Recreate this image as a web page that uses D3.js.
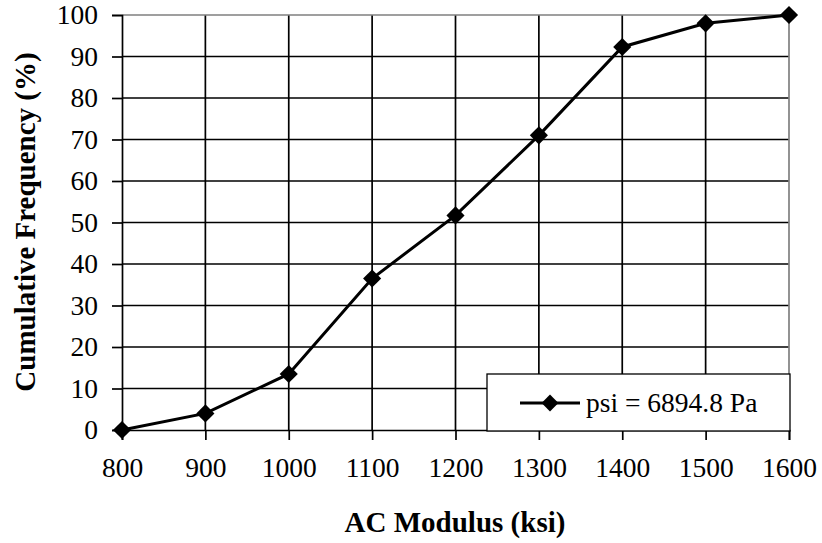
<!DOCTYPE html>
<html>
<head>
<meta charset="utf-8">
<script src="https://cdn.jsdelivr.net/npm/d3@7"></script>
<style>
  body { margin: 0; background: #fff; }
  text { font-family: "Liberation Serif", "Times New Roman", serif; fill: #000; }
</style>
</head>
<body>
<div id="chart"></div>
<script>
var modulus = [800, 900, 1000, 1100, 1200, 1300, 1400, 1500, 1600];
var cumFreq = [0, 4, 13.5, 36.5, 51.7, 71, 92.3, 98, 100];
var xTicks = [800, 900, 1000, 1100, 1200, 1300, 1400, 1500, 1600];
var yTicks = [0, 10, 20, 30, 40, 50, 60, 70, 80, 90, 100];
var seriesName = "psi = 6894.8 Pa";

var w = 822, h = 543;
var padL = 122, padR = 789, padT = 15, padB = 430;
var gridW = 1.7;

var x = d3.scaleLinear().domain([800, 1600]).range([padL, padR]);
var y = d3.scaleLinear().domain([0, 100]).range([padB, padT]);

var svg = d3.select("#chart").append("svg")
    .attr("width", w)
    .attr("height", h);

// gridlines
svg.append("g")
    .selectAll("line")
    .data(yTicks.slice(1, -1))
    .enter().append("line")
    .attr("x1", padL).attr("x2", padR)
    .attr("y1", d => y(d)).attr("y2", d => y(d))
    .attr("stroke", "#000").attr("stroke-width", gridW);
svg.append("g")
    .selectAll("line")
    .data(xTicks.slice(1, -1))
    .enter().append("line")
    .attr("y1", padT).attr("y2", padB)
    .attr("x1", d => x(d)).attr("x2", d => x(d))
    .attr("stroke", "#000").attr("stroke-width", gridW);

// plot border, top and right are grey
svg.append("path")
    .attr("d", "M" + padL + "," + y(100) + "H" + x(1600) + "V" + padB)
    .attr("fill", "none")
    .attr("stroke", "#808080")
    .attr("stroke-width", gridW);

// axes
var yaxis = d3.axisLeft(y).tickValues(yTicks).tickSize(10).tickPadding(14)
    .tickFormat(d3.format("d"));
svg.append("g")
    .attr("transform", "translate(" + padL + ",0)")
    .call(yaxis)
    .call(g => g.select(".domain").attr("stroke-width", gridW))
    .call(g => g.selectAll(".tick line").attr("stroke-width", gridW))
    .call(g => g.selectAll("text").attr("font-size", "27.5px").attr("font-family", "Liberation Serif"));

var xaxis = d3.axisBottom(x).tickValues(xTicks).tickSize(10).tickPadding(17)
    .tickFormat(d3.format("d"));
svg.append("g")
    .attr("transform", "translate(0," + padB + ")")
    .call(xaxis)
    .call(g => g.select(".domain").attr("stroke-width", gridW))
    .call(g => g.selectAll(".tick line").attr("stroke-width", gridW))
    .call(g => g.selectAll("text").attr("font-size", "27.5px").attr("font-family", "Liberation Serif"));

// legend box covers the grid
var lg = svg.append("g");
lg.append("rect")
    .attr("x", 487).attr("y", 374)
    .attr("width", 303).attr("height", 57)
    .attr("fill", "#fff").attr("stroke", "#000").attr("stroke-width", 1.3);

// series
var data = modulus.map((m, i) => ({ m: m, v: cumFreq[i] }));
var line = d3.line().x(d => x(d.m)).y(d => y(d.v));
svg.append("path")
    .datum(data)
    .attr("d", line)
    .attr("fill", "none")
    .attr("stroke", "#000")
    .attr("stroke-width", 3);

var diamond = d3.symbol().type(d3.symbolDiamond2).size(210);
svg.selectAll(".pt")
    .data(data)
    .enter().append("path")
    .attr("class", "pt")
    .attr("d", diamond)
    .attr("transform", d => "translate(" + x(d.m) + "," + y(d.v) + ")")
    .attr("fill", "#000");

// legend entry
lg.append("line")
    .attr("x1", 520).attr("x2", 580)
    .attr("y1", 403).attr("y2", 403)
    .attr("stroke", "#000").attr("stroke-width", 3);
lg.append("path")
    .attr("d", d3.symbol().type(d3.symbolDiamond2).size(180))
    .attr("transform", "translate(550,403)");
lg.append("text")
    .attr("x", 586).attr("y", 412)
    .attr("font-size", "27.5px")
    .text(seriesName);

// axis titles
svg.append("text")
    .attr("x", 455).attr("y", 532)
    .attr("text-anchor", "middle")
    .attr("font-size", "29px")
    .attr("font-weight", "bold")
    .text("AC Modulus (ksi)");

svg.append("text")
    .attr("transform", "translate(35,222) rotate(-90)")
    .attr("text-anchor", "middle")
    .attr("font-size", "29px")
    .attr("font-weight", "bold")
    .text("Cumulative Frequency (%)");
</script>
</body>
</html>
